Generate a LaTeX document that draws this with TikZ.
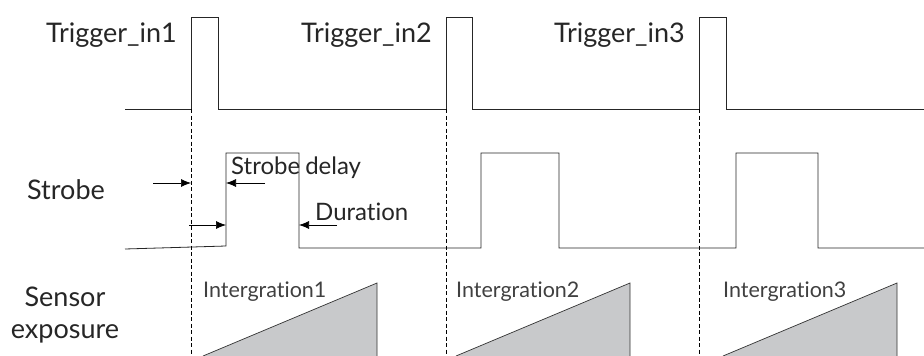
\documentclass[tikz,border=0pt]{standalone}
\usepackage{fontspec}
\setmainfont{Lato}[Ligatures={NoCommon}]
\usetikzlibrary{arrows.meta}
\definecolor{relleno}{HTML}{C8C9CB}
\begin{document}
\begin{tikzpicture}[x=1pt,y=-1pt,
    senal/.style={line width=0.8pt, black!85},
    guia/.style={line width=0.6pt, dash pattern=on 4pt off 2.5pt},
    flecha/.style={-{Latex[length=10pt,width=8pt]}, line width=0.7pt},
    etiq/.style={font=\fontsize{27}{29}\selectfont, inner sep=0pt, text=black!85},
    integ/.style={font=\fontsize{21.5}{23}\selectfont, inner sep=0pt, text=black!75},
    cota/.style={font=\fontsize{24}{26}\selectfont, inner sep=0pt, text=black!85}]
  \useasboundingbox (0,0) rectangle (924,356);

  % Niveles de las tres señales (en px)
  \def\ybajo{109}  % Trigger_in, nivel bajo
  \def\yalto{17}   % Trigger_in, nivel alto
  \def\sbajo{248}  % Strobe, nivel bajo
  \def\salto{153}  % Strobe, nivel alto

  % Señal Trigger_in con sus tres pulsos
  \draw[senal] (125,\ybajo) -- (191,\ybajo) -- (191,\yalto) -- (218,\yalto) -- (218,\ybajo)
    -- (446,\ybajo) -- (446,\yalto) -- (472,\yalto) -- (472,\ybajo)
    -- (699,\ybajo) -- (699,\yalto) -- (726,\yalto) -- (726,\ybajo) -- (924,\ybajo);

  % Señal Strobe (el primer tramo baja un poco)
  \draw[senal] (125,249) -- (226,246) -- (226,\salto) -- (299,\salto) -- (299,\sbajo)
    -- (481,\sbajo) -- (481,\salto) -- (559,\salto) -- (559,\sbajo)
    -- (736,\sbajo) -- (736,\salto) -- (818,\salto) -- (818,\sbajo) -- (924,\sbajo);

  % Guías discontinuas y rótulos de cada disparo
  \foreach \t/\n in {191/1,446/2,699/3}{
    \draw[guia] (\t,\ybajo) -- (\t,356);
    \node[etiq, anchor=east] (trig\n) at (\t-14,35) {Trigger\_in\n};
  }

  % Rampas de integración del sensor
  \foreach \x/\n in {203/1,456/2,723/3}{
    \filldraw[fill=relleno, draw=black!80, line width=0.7pt] (\x,356) -- (\x+174,283) -- (\x+174,356);
    \node[integ, anchor=west] (int\n) at (\x,292) {Intergrat\kern0pt ion\n};
  }

  % Rótulos de las filas
  \node[etiq] (strobe) at (66,190) {Strobe};
  \node[etiq, align=center] (sensor) at (65,315) {Sensor\\[3pt]exposure};

  % Cotas de retardo y duración
  \coordinate (d1a) at (153,183);  \coordinate (d1b) at (191,183);
  \coordinate (d2a) at (265,183);  \coordinate (d2b) at (226,183);
  \coordinate (d3a) at (189,225);  \coordinate (d3b) at (226,225);
  \coordinate (d4a) at (337,225);  \coordinate (d4b) at (299,225);
  \draw[flecha] (d1a) -- (d1b);
  \draw[flecha] (d2a) -- (d2b);
  \draw[flecha] (d3a) -- (d3b);
  \draw[flecha] (d4a) -- (d4b);
  \node[cota, anchor=west] (retardo) at (231,168) {Strobe\hspace{5pt}delay};
  \node[cota, anchor=west] (duracion) at (315,212) {Durat\kern0pt ion};
\end{tikzpicture}
\end{document}
